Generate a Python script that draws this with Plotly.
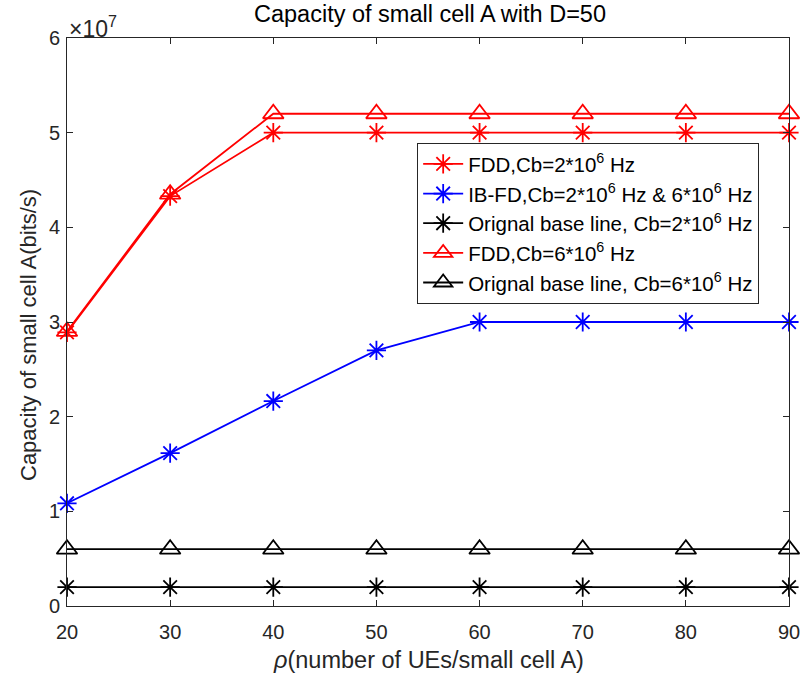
import plotly.graph_objects as go

rho = [20, 30, 40, 50, 60, 70, 80, 90]
fdd_2 = [2.89e7, 4.33e7, 5.0e7, 5.0e7, 5.0e7, 5.0e7, 5.0e7, 5.0e7]
ibfd = [1.085e7, 1.615e7, 2.165e7, 2.70e7, 3.0e7, 3.0e7, 3.0e7, 3.0e7]
base_2 = [2e6] * 8
fdd_6 = [2.90e7, 4.35e7, 5.2e7, 5.2e7, 5.2e7, 5.2e7, 5.2e7, 5.2e7]
base_6 = [6e6] * 8

y_ticks = [0, 1e7, 2e7, 3e7, 4e7, 5e7, 6e7]
y_ticktext = ["0", "1", "2", "3", "4", "5", "6"]

names = [
    "FDD,Cb=2*10<sup>6</sup> Hz",
    "IB-FD,Cb=2*10<sup>6</sup> Hz & 6*10<sup>6</sup> Hz",
    "Orignal base line, Cb=2*10<sup>6</sup> Hz",
    "FDD,Cb=6*10<sup>6</sup> Hz",
    "Orignal base line, Cb=6*10<sup>6</sup> Hz",
]
series = [fdd_2, ibfd, base_2, fdd_6, base_6]
colors = ["#ff0000", "#0000ff", "#000000", "#ff0000", "#000000"]
symbols = ["asterisk-open", "asterisk-open", "asterisk-open", "triangle-up-open", "triangle-up-open"]
sizes = [16, 16, 16, 18, 18]

fig = go.Figure()
for n, s, c, sym, sz in zip(names, series, colors, symbols, sizes):
    fig.add_trace(go.Scatter(
        x=rho, y=s, name=n, mode="lines+markers",
        line=dict(color=c, width=1.8),
        marker=dict(symbol=sym, size=sz, color=c, line=dict(color=c, width=1.8)),
        cliponaxis=False,
    ))

font = "Liberation Sans, Arial, Helvetica, sans-serif"
axcol = "#262626"
fig.update_layout(
    width=800, height=678,
    margin=dict(l=67, r=11, t=38, b=72),
    plot_bgcolor="white", paper_bgcolor="white",
    font=dict(family=font, size=20, color=axcol),
    xaxis=dict(range=[20, 90], tickvals=rho, ticks="inside", ticklen=6, tickcolor=axcol,
               showline=True, linecolor=axcol, linewidth=1, mirror="ticks",
               showgrid=False, zeroline=False, automargin=False,
               ticklabeloverflow="allow", ticklabelstandoff=8,
               tickfont=dict(size=20, color=axcol)),
    yaxis=dict(range=[0, 6e7], tickvals=y_ticks, ticktext=y_ticktext,
               ticks="inside", ticklen=6, tickcolor=axcol,
               showline=True, linecolor=axcol, linewidth=1, mirror="ticks",
               showgrid=False, zeroline=False, automargin=False,
               ticklabeloverflow="allow", ticklabelstandoff=2,
               tickfont=dict(size=20, color=axcol)),
    legend=dict(x=0.485, y=0.815, xanchor="left", yanchor="top",
                bgcolor="white", bordercolor=axcol, borderwidth=1,
                font=dict(size=20.5, color="black"), tracegroupgap=0, itemwidth=40),
    showlegend=True,
)
fig.add_annotation(xref="paper", yref="paper", x=0.0, y=1.0, xanchor="left", yanchor="bottom",
                   text="×10<sup>7</sup>", showarrow=False, font=dict(size=23, color=axcol),
                   yshift=-6)
fig.add_annotation(xref="paper", yref="paper", x=(430 - 67) / 722, y=1.0, xanchor="center",
                   yanchor="middle", yshift=24, text="Capacity of small cell A with D=50",
                   showarrow=False, font=dict(size=23.5, color="black"))
fig.add_annotation(xref="paper", yref="paper", x=(428 - 67) / 722, y=0.0, xanchor="center",
                   yanchor="middle", yshift=-54, text="<i>ρ</i>(number of UEs/small cell A)",
                   showarrow=False, font=dict(size=23.5, color=axcol))
fig.add_annotation(xref="paper", yref="paper", x=0.0, y=(606 - 335) / 568, xanchor="center",
                   yanchor="middle", xshift=-39, textangle=-90,
                   text="Capacity of small cell A(bits/s)",
                   showarrow=False, font=dict(size=22, color=axcol))
fig.write_html("out.html")
